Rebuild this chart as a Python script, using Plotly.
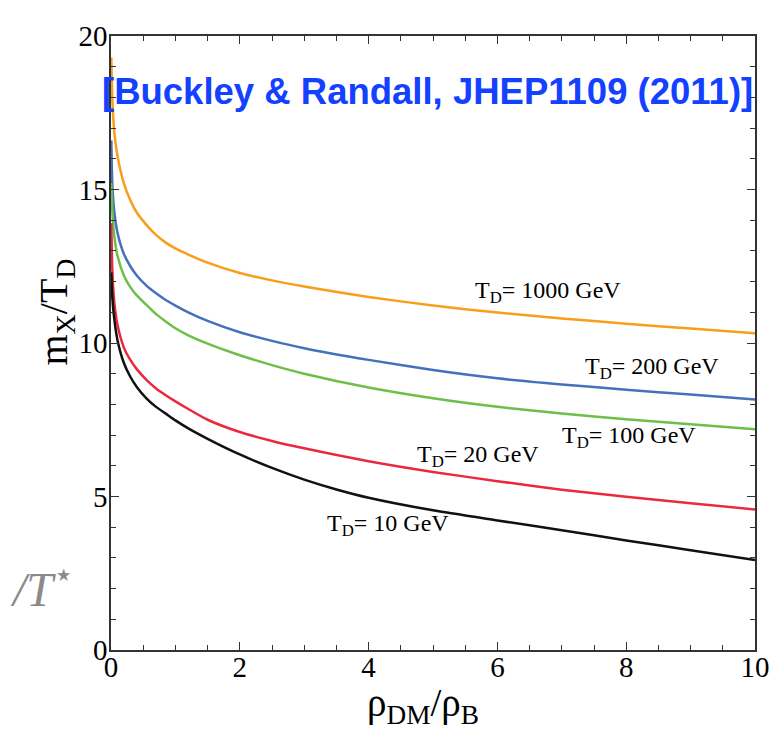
import plotly.graph_objects as go

# ---- data ----
x_td1000 = [0.005, 0.02, 0.05, 0.1, 0.2, 0.3, 0.4, 0.55, 0.7, 0.85, 1.0, 1.2, 1.5, 2.0, 2.5, 3.0, 4.0, 5.0, 6.0, 7.0, 8.0, 9.0, 10.0]
y_td1000 = [19.3, 18.0, 16.9, 16.1, 15.2, 14.65, 14.25, 13.85, 13.52, 13.27, 13.08, 12.88, 12.62, 12.28, 12.04, 11.84, 11.5, 11.22, 10.99, 10.8, 10.63, 10.47, 10.32]

x_td200 = [0.005, 0.02, 0.05, 0.1, 0.2, 0.3, 0.4, 0.55, 0.7, 0.85, 1.0, 1.2, 1.5, 2.0, 2.5, 3.0, 4.0, 5.0, 6.0, 7.0, 8.0, 9.0, 10.0]
y_td200 = [16.6, 15.2, 14.3, 13.6, 12.9, 12.5, 12.2, 11.87, 11.62, 11.4, 11.22, 11.0, 10.72, 10.35, 10.07, 9.83, 9.45, 9.12, 8.85, 8.65, 8.48, 8.32, 8.16]

x_td100 = [0.005, 0.02, 0.05, 0.1, 0.2, 0.3, 0.4, 0.55, 0.7, 0.85, 1.0, 1.2, 1.5, 2.0, 2.5, 3.0, 4.0, 5.0, 6.0, 7.0, 8.0, 9.0, 10.0]
y_td100 = [15.2, 14.3, 13.5, 12.85, 12.2, 11.82, 11.55, 11.24, 10.94, 10.7, 10.48, 10.25, 9.98, 9.6, 9.28, 9.0, 8.55, 8.2, 7.92, 7.7, 7.52, 7.35, 7.19]

x_td20 = [0.005, 0.02, 0.05, 0.1, 0.2, 0.3, 0.4, 0.55, 0.7, 0.85, 1.0, 1.2, 1.5, 2.0, 2.5, 3.0, 4.0, 5.0, 6.0, 7.0, 8.0, 9.0, 10.0]
y_td20 = [13.9, 12.4, 11.35, 10.6, 9.85, 9.45, 9.15, 8.8, 8.52, 8.3, 8.1, 7.85, 7.5, 7.1, 6.81, 6.57, 6.15, 5.8, 5.5, 5.22, 4.99, 4.78, 4.58]

x_td10 = [0.005, 0.02, 0.05, 0.1, 0.2, 0.3, 0.4, 0.55, 0.7, 0.85, 1.0, 1.2, 1.5, 2.0, 2.5, 3.0, 3.5, 4.0, 5.0, 6.0, 7.0, 8.0, 9.0, 10.0]
y_td10 = [12.3, 11.5, 10.8, 10.1, 9.35, 8.9, 8.57, 8.2, 7.92, 7.7, 7.48, 7.22, 6.88, 6.37, 5.93, 5.55, 5.23, 4.96, 4.55, 4.22, 3.9, 3.57, 3.25, 2.93]

series_names = ["T<sub>D</sub>= 1000 GeV", "T<sub>D</sub>= 200 GeV", "T<sub>D</sub>= 100 GeV",
                "T<sub>D</sub>= 20 GeV", "T<sub>D</sub>= 10 GeV"]
label_x = [5.62, 7.33, 6.97, 4.72, 3.32]
label_y = [11.66, 9.17, 6.93, 6.33, 4.06]

x_ticks = [0, 2, 4, 6, 8, 10]
y_ticks = [0, 5, 10, 15, 20]

colors = ["#f99d1c", "#4470bd", "#6cbf47", "#ea2a3c", "#111111"]
xs = [x_td1000, x_td200, x_td100, x_td20, x_td10]
ys = [y_td1000, y_td200, y_td100, y_td20, y_td10]

serif = "Liberation Serif, Times New Roman, serif"

fig = go.Figure()
for xv, yv, c, n in zip(xs, ys, colors, series_names):
    fig.add_trace(go.Scatter(x=xv, y=yv, mode="lines", name=n,
                             line=dict(color=c, width=2.5, shape="spline", smoothing=0.6),
                             showlegend=False))

for t, lx, ly in zip(series_names, label_x, label_y):
    fig.add_annotation(x=lx, y=ly, text=t, showarrow=False, xanchor="left", yanchor="middle",
                       font=dict(family=serif, size=24, color="black"))

# title (blue)
fig.add_annotation(x=4.92, y=18.2, text="<b>[Buckley &amp; Randall, JHEP1109 (2011)]</b>", showarrow=False,
                   xanchor="center", yanchor="middle",
                   font=dict(family="Liberation Sans, Arial, sans-serif", size=36.5, color="#1440ff"))

# axis titles
fig.add_annotation(xref="paper", x=-0.085, y=11.0, text="m<sub>X</sub>/T<sub>D</sub>", showarrow=False,
                   textangle=-90, xanchor="center", yanchor="middle",
                   font=dict(family=serif, size=40, color="black"))
fig.add_annotation(x=4.85, yref="paper", y=-0.09, text="ρ<sub>DM</sub>/ρ<sub>B</sub>", showarrow=False,
                   xanchor="center", yanchor="middle",
                   font=dict(family=serif, size=39, color="black"))

# gray fragment on the left edge
fig.add_annotation(xref="paper", x=-0.055, y=2.1, text="<i>/T</i><sup>⋆</sup>", showarrow=False,
                   xanchor="right", yanchor="middle",
                   font=dict(family=serif, size=48, color="#8a8a8a"))

axis_common = dict(showline=True, linecolor="#333333", linewidth=1.6, mirror="ticks",
                   ticks="inside", ticklen=8, tickwidth=1.3, tickcolor="#333333",
                   showgrid=False, zeroline=False,
                   tickfont=dict(family=serif, size=29, color="black"))

fig.update_xaxes(range=[0, 10], tickvals=x_ticks, ticktext=[str(v) for v in x_ticks],
                 minor=dict(dtick=0.5, ticks="inside", ticklen=5, tickwidth=1.1, tickcolor="#333333", showgrid=False),
                 ticklabelstandoff=-10, **axis_common)
fig.update_yaxes(range=[0, 20], tickvals=y_ticks, ticktext=[str(v) for v in y_ticks],
                 minor=dict(dtick=1, ticks="inside", ticklen=5, tickwidth=1.1, tickcolor="#333333", showgrid=False),
                 ticklabelstandoff=-4, **axis_common)

# page body adds an 8px offset, so the margins are shifted to keep the plot frame in place
fig.update_layout(width=780, height=730, margin=dict(l=103, r=33, t=17, b=88),
                  paper_bgcolor="white", plot_bgcolor="white")

fig.write_html("out.html")
